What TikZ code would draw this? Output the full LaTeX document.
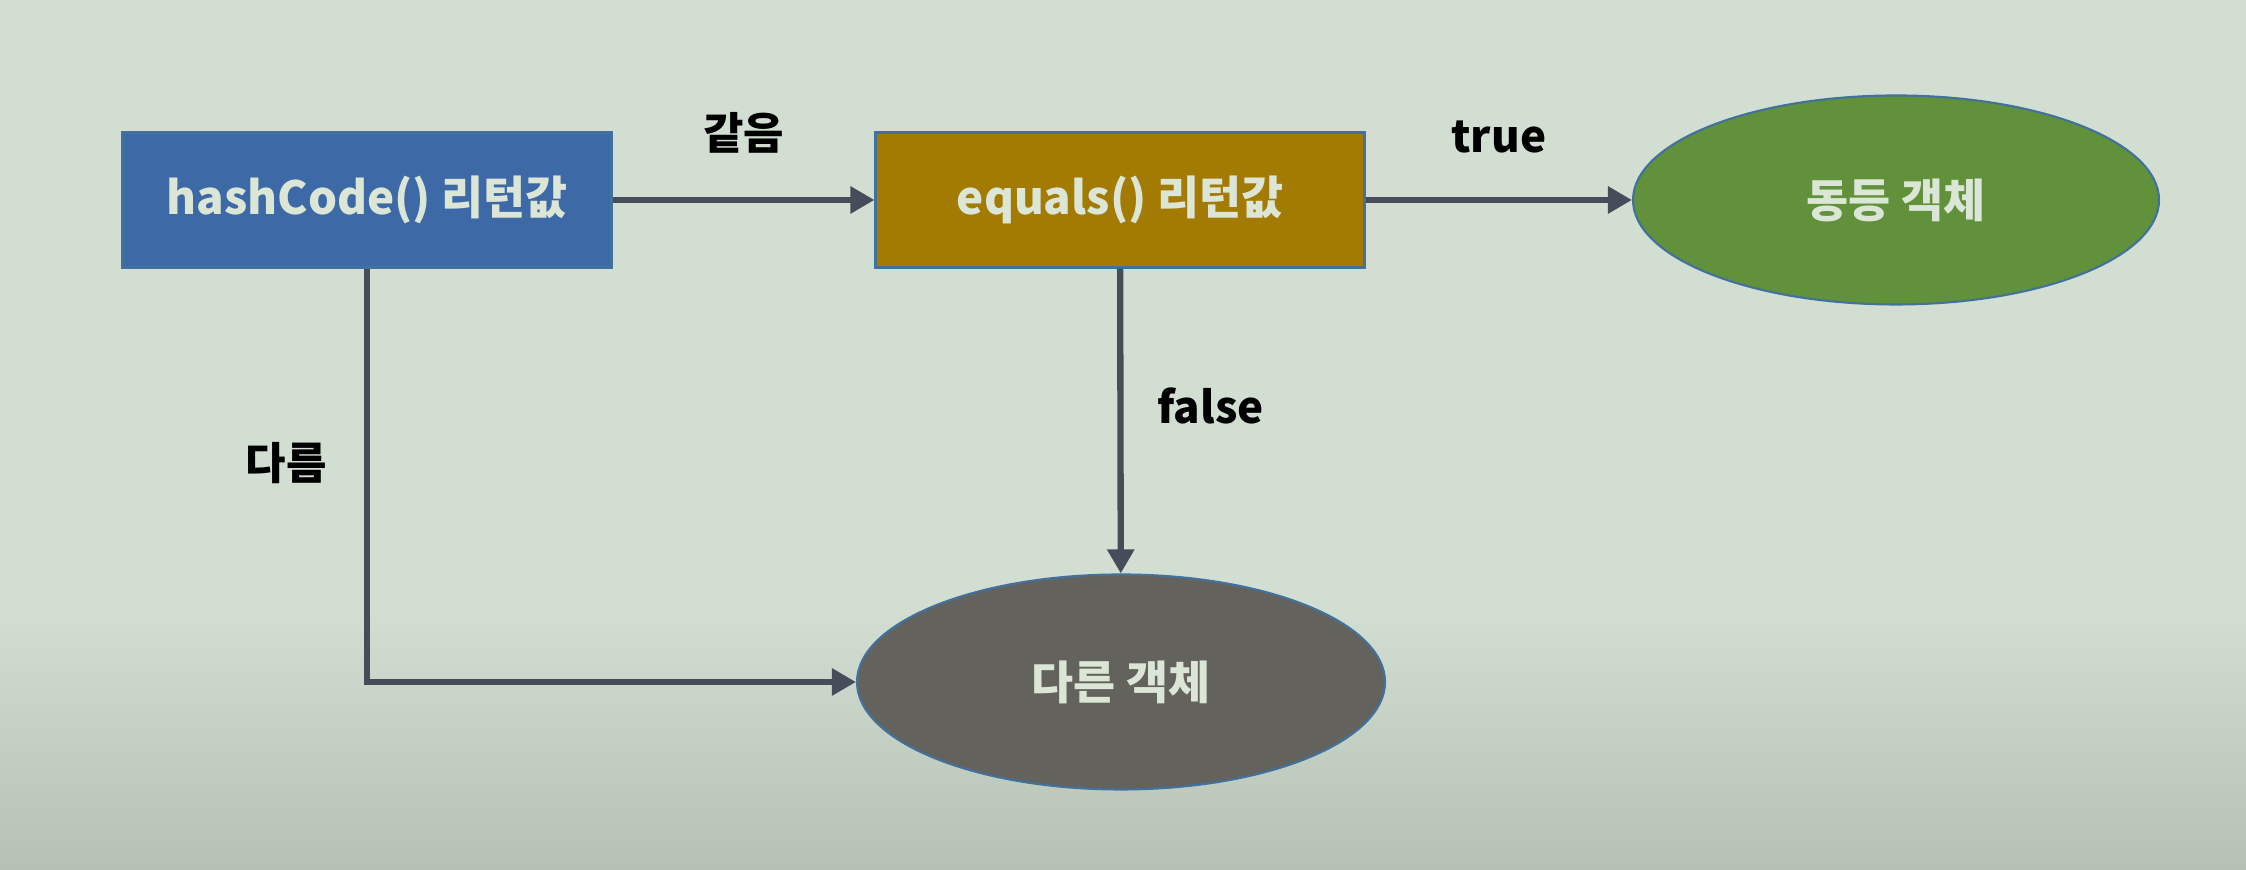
\documentclass[tikz,border=0pt]{standalone}
\usepackage{fontspec}
\setmainfont{Noto Sans CJK KR}
\usetikzlibrary{shapes.geometric, arrows.meta, positioning}

\definecolor{bgTop}{HTML}{D2DED2}
\definecolor{bgBot}{HTML}{B6C1B6}
\definecolor{hashBlue}{HTML}{3D69A6}
\definecolor{eqGold}{HTML}{A47B02}
\definecolor{sameGreen}{HTML}{61913B}
\definecolor{diffGray}{HTML}{64625D}
\definecolor{rimBlue}{HTML}{41719C}
\definecolor{flowGray}{HTML}{454D5A}
\definecolor{paleText}{HTML}{DCE6D6}

\begin{document}
\begin{tikzpicture}[
		font=\bfseries,
		% Style for the two check boxes
		box-hash/.style={rectangle, fill=hashBlue, draw=rimBlue, line width=0.6pt,
			minimum width=4.89cm, minimum height=1.35cm, text=paleText, font=\bfseries\fontsize{13}{15}\selectfont},
		box-eq/.style={box-hash, fill=eqGold},
		% Style for the result ellipses
		obj-same/.style={ellipse, fill=sameGreen, draw=rimBlue, line width=0.6pt,
			minimum width=5.26cm, minimum height=2.09cm, text=paleText, font=\bfseries\fontsize{13}{15}\selectfont},
		obj-diff/.style={obj-same, fill=diffGray, minimum width=5.28cm, minimum height=2.15cm},
		% Connectors & labels
		flow/.style={draw=flowGray, line width=1.8pt, -{Triangle[length=0.24cm, width=0.26cm]}},
		edge label/.style={font=\bfseries\fontsize{12.5}{14}\selectfont, text=black}
		]

	% ==============================================================================
	% Background
	% ==============================================================================
	\fill[bgTop] (0,0) rectangle (22.46,8.70);
	\shade[top color=bgTop, bottom color=bgBot] (0,0) rectangle (22.46,2.6);
	\useasboundingbox (0,0) rectangle (22.46,8.70);

	% ==============================================================================
	% Nodes
	% ==============================================================================
	\node[box-hash] (hash) at (3.67, 6.70) {hashCode() 리턴값};
	\node[box-eq] (equals) at (11.20, 6.70) {equals() 리턴값};
	\node[obj-same] (same) at (18.96, 6.70) {동등 객체};
	\node[obj-diff] (diff) at (11.21, 1.88) {다른 객체};

	% ==============================================================================
	% Connectors
	% ==============================================================================
	\draw[flow] (hash) -- node[edge label, above=0.32cm] (lblSame) {같음} (equals);
	\draw[flow] (equals) -- node[edge label, above=0.32cm] (lblTrue) {true} (same);
	\draw[flow] (equals) -- node[edge label, right=0.22cm, pos=0.45] (lblFalse) {false} (diff);
	\draw[flow] (hash) |- (diff);
	\node[edge label] (lblDiff) at (2.86, 4.07) {다름};
\end{tikzpicture}
\end{document}
